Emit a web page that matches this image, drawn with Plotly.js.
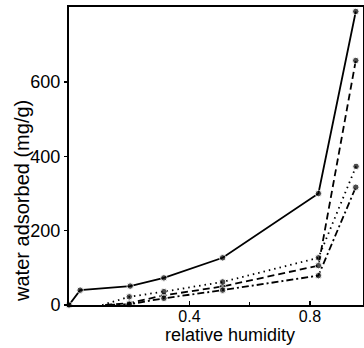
<!DOCTYPE html>
<html>
<head>
<meta charset="utf-8">
<script src="https://cdn.plot.ly/plotly-3.0.1.min.js"></script>
<style>html,body{margin:0;padding:0;background:#fff;}#chart{width:364px;height:348px;}</style>
</head>
<body>
<div id="chart"></div>
<script>
// relative humidity values
const rhSolid = [0, 0.037, 0.203, 0.315, 0.51, 0.828, 0.952];
const waterSolid = [0, 40, 51, 73, 127, 300, 790];

const rhDashed = [0.12, 0.2, 0.315, 0.51, 0.828, 0.952];
const waterDashed = [0, 5, 26, 50, 106, 658];

const rhDotted = [0.11, 0.2, 0.315, 0.51, 0.828, 0.953];
const waterDotted = [0, 22, 36, 62, 127, 373];

const rhDashDot = [0.13, 0.2, 0.315, 0.51, 0.828, 0.952];
const waterDashDot = [0, 2, 18, 40, 79, 317];

const yTicks = [0, 200, 400, 600];
const xTicks = [0.4, 0.8];
const xTickLabels = ['0.4', '0.8'];
const xTitle = 'relative humidity';
const yTitle = 'water adsorbed (mg/g)';

function trace(x, y, dash, hideFirst) {
  return {
    x: x, y: y, type: 'scatter', mode: 'lines+markers',
    line: {color: '#000', width: 1.8, dash: dash},
    marker: {color: '#000', size: x.map((v, i) => (hideFirst && i === 0) ? 0 : 6.5)},
    cliponaxis: false,
    showlegend: false
  };
}

const data = [
  trace(rhSolid, waterSolid, 'solid', false),
  trace(rhDashed, waterDashed, '7px,4px', true),
  trace(rhDotted, waterDotted, '1.5px,4px', true),
  trace(rhDashDot, waterDashDot, '7px,3px,2px,3px', true)
];

const font = {family: 'Liberation Sans, Arial, sans-serif', color: '#000'};

const layout = {
  width: 364, height: 348,
  margin: {l: 69, r: 1, t: 7, b: 43},
  paper_bgcolor: '#fff', plot_bgcolor: '#fff',
  xaxis: {
    range: [0, 0.976],
    tickvals: xTicks, ticktext: xTickLabels,
    ticks: 'inside', ticklen: 4, tickwidth: 1.2, tickcolor: '#000',
    minor: {tickvals: [0.2, 0.6], ticks: 'inside', ticklen: 3, tickcolor: '#000'},
    showline: true, linecolor: '#000', linewidth: 2, mirror: true,
    showgrid: false, zeroline: false,
    tickfont: Object.assign({size: 16}, font),
    ticklabelstandoff: -4,
    automargin: false
  },
  yaxis: {
    range: [0, 802],
    tickvals: yTicks,
    ticks: 'outside', ticklen: 3, tickwidth: 1.2, tickcolor: '#000',
    showline: true, linecolor: '#000', linewidth: 2, mirror: true,
    showgrid: false, zeroline: false,
    tickfont: Object.assign({size: 18}, font),
    ticklabelstandoff: 0,
    automargin: false
  },
  annotations: [
    {text: xTitle, xref: 'paper', yref: 'paper', x: 0.548, y: -0.101,
     xanchor: 'center', yanchor: 'middle', showarrow: false,
     font: Object.assign({size: 18}, font)},
    {text: yTitle, xref: 'paper', yref: 'paper', x: -0.16, y: 0.349,
     xanchor: 'center', yanchor: 'middle', showarrow: false, textangle: -90,
     font: Object.assign({size: 20}, font)}
  ]
};

Plotly.newPlot('chart', data, layout, {staticPlot: true, displayModeBar: false});
</script>
</body>
</html>
